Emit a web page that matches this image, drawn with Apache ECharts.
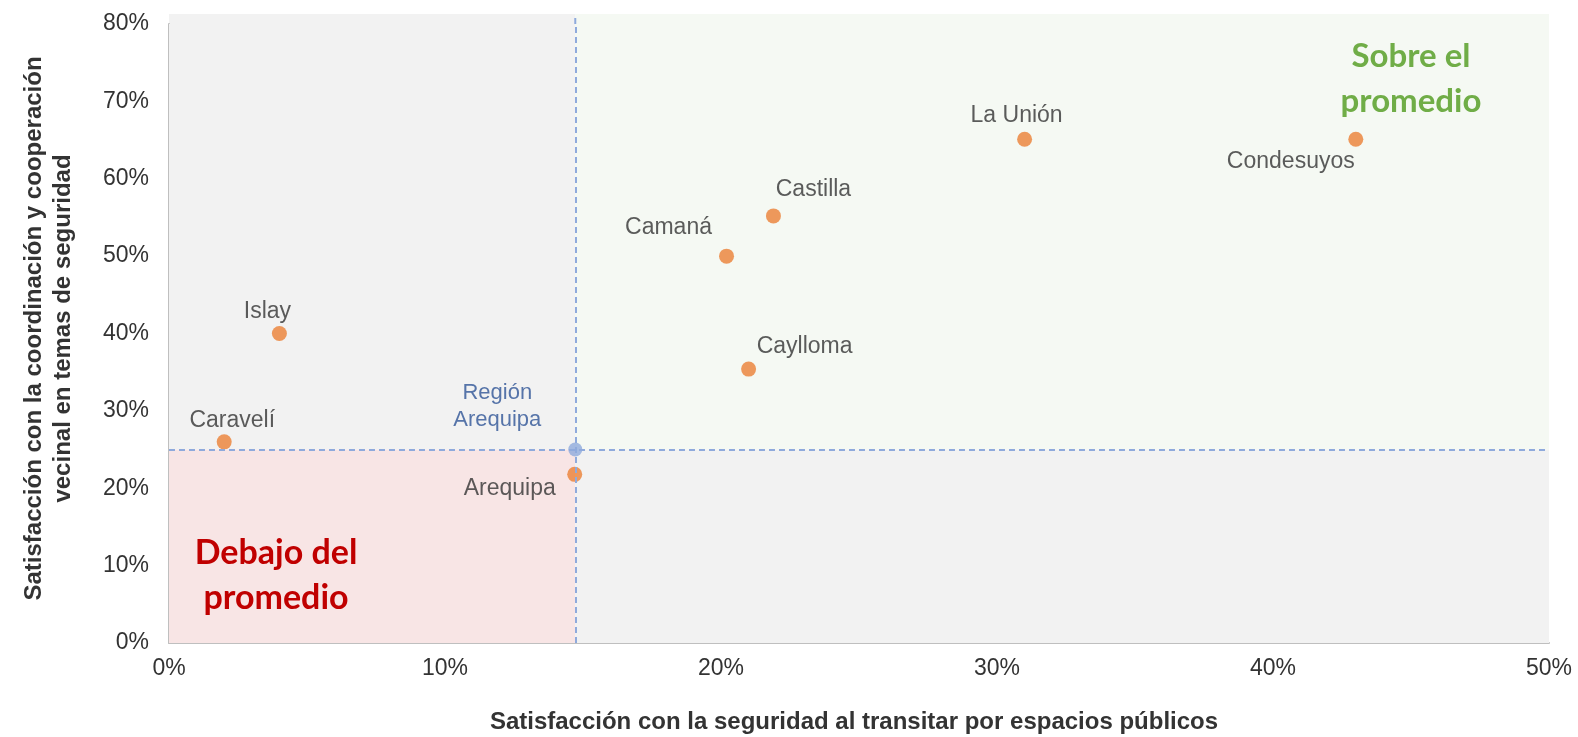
<!DOCTYPE html>
<html><head><meta charset="utf-8">
<script src="https://cdn.jsdelivr.net/npm/echarts@6/dist/echarts.min.js"></script>
<style>html,body{margin:0;padding:0;background:#fff}#c{width:1578px;height:737px}</style>
</head><body><div id="c"></div>
<script>
// ---- data ----
const provinces = ['Caravelí', 'Islay', 'Arequipa', 'Camaná', 'Castilla', 'Caylloma', 'La Unión', 'Condesuyos'];
const xValues = [2.0, 4.0, 14.7, 20.2, 21.9, 21.0, 31.0, 43.0];
const yValues = [26.0, 40.0, 21.8, 50.0, 55.2, 35.4, 65.1, 65.1];
const regionLabel = 'Región\nArequipa';
const regionX = 14.72;
const regionY = 25.0;
const xTickLabels = ['0%', '10%', '20%', '30%', '40%', '50%'];
const yTickLabels = ['0%', '10%', '20%', '30%', '40%', '50%', '60%', '70%', '80%'];
const xTitle = 'Satisfacción con la seguridad al transitar por espacios públicos';
const yTitle = 'Satisfacción con la coordinación y cooperación\nvecinal en temas de seguridad';
const aboveText = 'Sobre el\npromedio';
const belowText = 'Debajo del\npromedio';

// ---- styling ----
const labelOffsets = {
  'Caravelí': [8, -21], 'Islay': [-12, -22], 'Arequipa': [-65, 14], 'Camaná': [-58, -28],
  'Castilla': [40, -26], 'Caylloma': [56, -22], 'La Unión': [-8, -24], 'Condesuyos': [-65, 22]
};
const FONT = '"Liberation Sans", Arial, sans-serif';
const TEXT = '#333333';
const lineBlue = '#8FAADC';
const dash = [6, 4];

const chart = echarts.init(document.getElementById('c'), null, {renderer: 'canvas'});

const provData = provinces.map((n, i) => ({
  name: n, value: [xValues[i], yValues[i]],
  label: {offset: labelOffsets[n]}
}));

chart.setOption({
  animation: false,
  backgroundColor: '#ffffff',
  grid: {left: 169, right: 29, top: 24, bottom: 94, containLabel: false, outerBoundsMode: 'none'},
  xAxis: {
    type: 'value', min: 0, max: 50, interval: 10,
    axisLine: {show: true, lineStyle: {color: '#BFBFBF', width: 2}},
    axisTick: {show: false}, splitLine: {show: false},
    axisLabel: {color: TEXT, fontSize: 23, fontFamily: FONT, margin: 14,
      formatter: v => xTickLabels[Math.round(v / 10)]},
    name: xTitle, nameLocation: 'middle', nameGap: 67,
    nameTextStyle: {color: TEXT, fontSize: 24, fontWeight: 'bold', fontFamily: FONT, padding: [0, 10, 0, 0]}
  },
  yAxis: {
    type: 'value', min: 0, max: 80, interval: 10,
    axisLine: {show: true, lineStyle: {color: '#BFBFBF', width: 2}},
    axisTick: {show: false}, splitLine: {show: false},
    axisLabel: {color: TEXT, fontSize: 23, fontFamily: FONT, margin: 20,
      formatter: v => yTickLabels[Math.round(v / 10)]},
    name: yTitle, nameLocation: 'middle', nameGap: 91,
    nameTextStyle: {color: TEXT, fontSize: 24, fontWeight: 'bold', fontFamily: FONT,
      lineHeight: 29, align: 'center', padding: [0, 0, 0, 10]}
  },
  series: [
    {
      type: 'scatter', name: 'Región', z: 2,
      data: [{name: regionLabel, value: [regionX, regionY]}],
      symbolSize: 14,
      itemStyle: {color: lineBlue},
      label: {show: true, position: 'inside', offset: [-78, -43], formatter: '{b}',
        color: '#2E5496', fontSize: 22, fontFamily: FONT, lineHeight: 27, align: 'center'},
      markArea: {
        silent: true,
        data: [
          [{coord: [0, regionY], itemStyle: {color: '#F2F2F2'}}, {coord: [regionX, 80]}],
          [{coord: [regionX, regionY], itemStyle: {color: '#F5F9F3'}}, {coord: [50, 80]}],
          [{coord: [0, 0], itemStyle: {color: '#F8E5E5'}}, {coord: [regionX, regionY]}],
          [{coord: [regionX, 0], itemStyle: {color: '#F2F2F2'}}, {coord: [50, regionY]}]
        ]
      },
      markLine: {
        silent: true, symbol: 'none', label: {show: false},
        lineStyle: {color: lineBlue, type: dash, width: 2},
        data: [
          [{coord: [0, regionY]}, {coord: [50, regionY]}],
          [{coord: [regionX, 0]}, {coord: [regionX, 80]}]
        ]
      }
    },
    {
      type: 'scatter', name: 'Provincias', z: 3,
      data: provData,
      symbolSize: 15,
      itemStyle: {color: '#EB7F35'},
      label: {show: true, position: 'inside', formatter: '{b}', color: TEXT,
        fontSize: 23, fontFamily: FONT, align: 'center', verticalAlign: 'middle'}
    }
  ]
});

// decorative strip above the top gridline + quadrant captions
const pL = chart.convertToPixel({gridIndex: 0}, [0, 80]);
const pM = chart.convertToPixel({gridIndex: 0}, [regionX, 80]);
const pR = chart.convertToPixel({gridIndex: 0}, [50, 80]);
const stripTop = 14;
chart.setOption({
  graphic: [
    {type: 'rect', z: -1, silent: true, shape: {x: pL[0], y: stripTop, width: pM[0] - pL[0], height: pL[1] - stripTop}, style: {fill: '#F2F2F2'}},
    {type: 'rect', z: -1, silent: true, shape: {x: pM[0], y: stripTop, width: pR[0] - pM[0], height: pL[1] - stripTop}, style: {fill: '#F5F9F3'}},
    {type: 'line', z: 1, silent: true, shape: {x1: pM[0], y1: stripTop + 4, x2: pM[0], y2: pM[1]}, style: {stroke: lineBlue, lineWidth: 2, lineDash: dash}},
    {type: 'text', z: 10, silent: true, x: 1411, y: 79,
      style: {text: aboveText, fill: '#70AD47', font: 'bold 33px Lato, "Open Sans", sans-serif', lineHeight: 45, align: 'center', verticalAlign: 'middle'}},
    {type: 'text', z: 10, silent: true, x: 276, y: 576,
      style: {text: belowText, fill: '#C00000', font: 'bold 34px Lato, "Open Sans", sans-serif', lineHeight: 45, align: 'center', verticalAlign: 'middle'}}
  ]
});
</script>
</body></html>
